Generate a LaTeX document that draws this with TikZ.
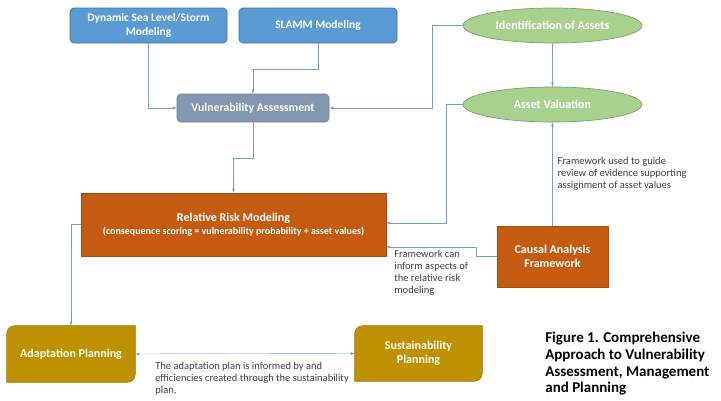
\documentclass[tikz,border=0pt]{standalone}
\usepackage{fontspec}
\setmainfont{Carlito}
\usepackage{tikz}
\usetikzlibrary{shapes,arrows}
\usetikzlibrary{calc,backgrounds}
\definecolor{modblue}{HTML}{5B9BD5}
\definecolor{modblueline}{HTML}{41719C}
\definecolor{assessgray}{HTML}{8497B0}
\definecolor{assessline}{HTML}{6B7F99}
\definecolor{assetgreen}{HTML}{A9D18E}
\definecolor{assetline}{HTML}{7E9F66}
\definecolor{riskorange}{HTML}{C55A11}
\definecolor{riskline}{HTML}{A94C0E}
\definecolor{plangold}{HTML}{BF9000}
\definecolor{planline}{HTML}{9E7700}
\definecolor{linkblue}{HTML}{6E9FD6}
\definecolor{notegray}{HTML}{404040}
\tikzstyle{modbox} = [rectangle,rounded corners=4pt,fill=modblue,draw=modblueline,text=white,align=center,font=\fontsize{11.5pt}{13.5pt}\selectfont\bfseries]
\tikzstyle{assessbox} = [rectangle,rounded corners=4pt,fill=assessgray,draw=assessline,text=white,align=center,font=\fontsize{11.8pt}{14pt}\selectfont\bfseries]
\tikzstyle{assetell} = [ellipse,fill=assetgreen,draw=assetline,text=white,align=center,inner sep=0pt,minimum width=179pt,minimum height=35pt,font=\fontsize{12pt}{14pt}\selectfont\bfseries]
\tikzstyle{riskbox} = [rectangle,fill=riskorange,draw=riskline,text=white,align=center,font=\fontsize{12pt}{14.5pt}\selectfont\bfseries]
\tikzstyle{planbox} = [rectangle,text=white,align=center,font=\fontsize{12pt}{14.5pt}\selectfont\bfseries]
\tikzstyle{planfill} = [fill=plangold,draw=planline]
\tikzstyle{note} = [align=left,inner sep=0pt,text=notegray,font=\fontsize{10.5pt}{11.8pt}\selectfont]
\tikzstyle{link} = [draw=linkblue,line width=0.7pt]

\begin{document}
\begin{tikzpicture}[x=1pt,y=-1pt,>=latex,link]

\useasboundingbox (0,0) rectangle (721,400);

\node (dyn) [modbox,minimum width=157pt,minimum height=35pt] at (148.5,25.5) {Dynamic Sea Level/Storm\\Modeling};
\node (slamm) [modbox,minimum width=158pt,minimum height=35pt] at (318,25.5) {SLAMM Modeling};
\node (va) [assessbox,minimum width=152pt,minimum height=28pt] at (253,108) {Vulnerability Assessment};
\node (ident) [assetell] at (552.5,25.5) {Identification of Assets};
\node (aval) [assetell] at (552.5,104.5) {Asset Valuation};
\node (rrm) [riskbox,minimum width=305pt,minimum height=63pt] at (233.5,224.5) {Relative Risk Modeling\\[-1pt]{\fontsize{10pt}{12pt}\selectfont (consequence scoring = vulnerability probability + asset values)}};
\node (caf) [riskbox,minimum width=111pt,minimum height=61pt] at (552.5,256.5) {Causal Analysis\\Framework};
\node (adapt) [planbox,minimum width=128pt,minimum height=56pt] at (71,354) {Adaptation Planning};
\node (sust) [planbox,minimum width=127pt,minimum height=55pt] at (418.5,353.5) {Sustainability\\Planning};
\node (rrmnote) [note,anchor=north west] at (394,250) {Framework can\\inform aspects of\\the relative risk\\modeling};
\node (plannote) [note,anchor=north west] at (155,362) {The adaptation plan is informed by and\\efficiencies created through the sustainability\\plan,};
\node (caption) [anchor=north west,inner sep=0pt,align=left,text=black,font=\fontsize{15pt}{16.7pt}\selectfont\bfseries] at (545,332) {Figure 1. Comprehensive\\Approach to Vulnerability\\Assessment, Management\\and Planning};

\begin{pgfonlayer}{background}
\foreach \n in {adapt,sust}
{
	\filldraw[planfill] (\n.south west)--([yshift=-8pt]\n.north west) arc[start angle=180,end angle=90,radius=8pt]--(\n.north east)--([yshift=8pt]\n.south east) arc[start angle=0,end angle=-90,radius=8pt]--cycle;
}
\end{pgfonlayer}

\draw[->] (dyn) |- (va);
\draw[->] (slamm.south)--++(0,26)-|(va.north);
\draw[->] (ident.west)--++(-30,0)|-(va.east);
\draw[->] (ident)--(aval);
\draw[->] (va.south)--++(0,36)-|(rrm.north);
\draw[->] (aval.west)--++(-16,0)|-([yshift=1.5pt]rrm.east);
\draw[->] (caf.north)--node[note,right,pos=0.5,xshift=5pt]{Framework used to guide\\review of evidence supporting\\assignment of asset values}(aval.south);
\draw[->] (caf.west)--++(-20,0)|-([yshift=-22.5pt]rrm.east);
\draw[->] (rrm) -| (adapt);
\draw[<->] (adapt.east)--(sust.west);

\end{tikzpicture}
\end{document}
